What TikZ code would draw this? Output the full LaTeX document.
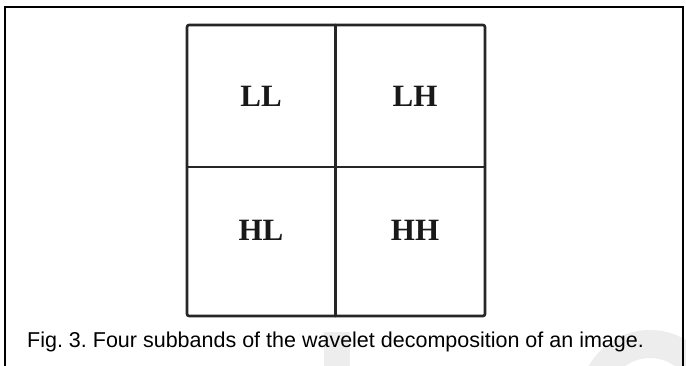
\documentclass[tikz,border=0pt]{standalone}
\usepackage{fontspec}
\setmainfont{Liberation Serif}
\newfontfamily\capfont{Liberation Sans}
\frenchspacing
\begin{document}
\begin{tikzpicture}[x=1pt,y=-1pt,
  gridline/.style={draw=black!85,line width=2.6pt,line cap=round,line join=round},
  band/.style={font=\bfseries\fontsize{31}{33}\selectfont,text=black!90,inner sep=0pt},
  caption/.style={font=\capfont\fontsize{21.5}{24}\selectfont,anchor=base west,inner sep=0pt}]
\useasboundingbox (0,0) rectangle (686,366);
\fill[white] (0,0) rectangle (686,366);
% watermark
\fill[black!7] (324,332) rectangle (350,366);
\fill[black!7,even odd rule] (650,400) circle (70) (650,400) circle (42);
% frame
\draw[black,line width=2pt] (5,366) -- (5,7) -- (683,7) -- (683,366);
% grid
\coordinate (tl) at (187,25);
\coordinate (br) at (485,316);
\coordinate (tm) at (335.5,25);
\coordinate (bm) at (335.5,316);
\coordinate (ml) at (187,167);
\coordinate (mr) at (485,167);
\draw[gridline,rounded corners=2pt] (tl) rectangle (br);
\draw[gridline] (tm) -- (bm);
\draw[gridline] (ml) -- (mr);
\node[band] (LL) at (261,96) {LL};
\node[band] (LH) at (415,96) {LH};
\node[band] (HL) at (261,230) {HL};
\node[band] (HH) at (415,230) {HH};
\node[caption] (cap) at (27,348) {Fig. 3. Four subbands of the wavelet decomposition of an image.};
\end{tikzpicture}
\end{document}
